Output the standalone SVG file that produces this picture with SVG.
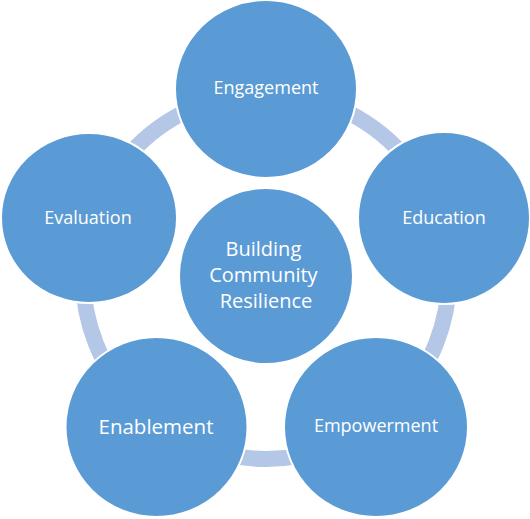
<svg xmlns="http://www.w3.org/2000/svg" width="530" height="519" viewBox="0 0 530 519">
  <style>
    .node { fill: #5B9BD5; stroke: #FFFFFF; stroke-width: 2; }
    .ring { fill: none; stroke: #B4C7E7; stroke-width: 16; }
    .lbl { font-family: "Open Sans", "Noto Sans", sans-serif; fill: #FFFFFF; text-anchor: middle; }
  </style>
  <rect width="530" height="519" fill="#FFFFFF"/>
  <g id="connectors">
    <circle class="ring" cx="266" cy="276" r="183"/>
  </g>
  <g id="engagement">
    <ellipse class="node" cx="266" cy="89" rx="91" ry="89"/>
    <text class="lbl" x="266" y="94" font-size="18">Engagement</text>
  </g>
  <g id="education">
    <circle class="node" cx="444" cy="218" r="86"/>
    <text class="lbl" x="444" y="224" font-size="18">Education</text>
  </g>
  <g id="empowerment">
    <ellipse class="node" cx="376" cy="427" rx="92" ry="90"/>
    <text class="lbl" x="376" y="432" font-size="18">Empowerment</text>
  </g>
  <g id="enablement">
    <ellipse class="node" cx="156.5" cy="427" rx="91" ry="90"/>
    <text class="lbl" x="156" y="434" font-size="20.5">Enablement</text>
  </g>
  <g id="evaluation">
    <ellipse class="node" cx="89" cy="218" rx="88" ry="85"/>
    <text class="lbl" x="88" y="224" font-size="18">Evaluation</text>
  </g>
  <g id="center">
    <ellipse class="node" cx="266" cy="276" rx="87" ry="88"/>
    <text class="lbl" font-size="20">
      <tspan x="266" y="256">Building</tspan>
      <tspan x="266" y="282">Community</tspan>
      <tspan x="266" y="308">Resilience</tspan>
    </text>
  </g>
</svg>
